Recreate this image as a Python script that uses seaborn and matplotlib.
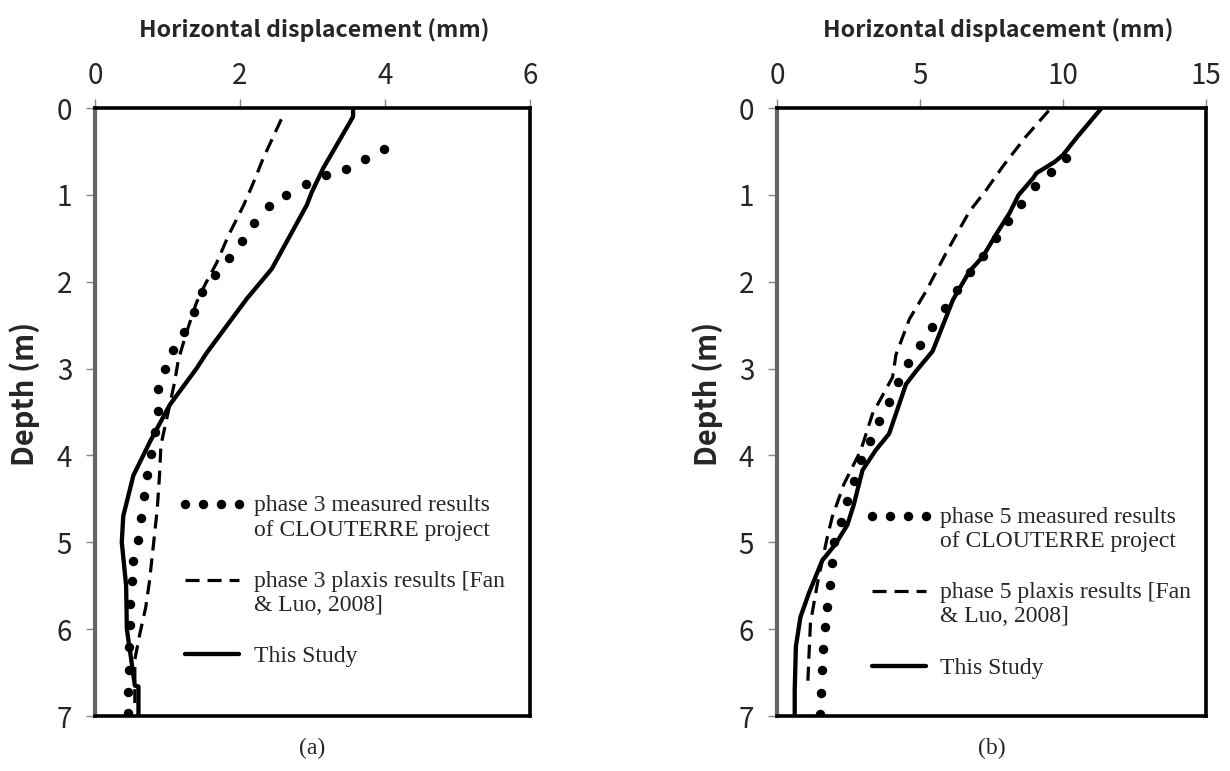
import matplotlib

matplotlib.use("Agg")
import matplotlib.pyplot as plt
import numpy as np
import seaborn as sns

# phase 3 (a)
depth_a_meas = [0.47, 0.59, 0.70, 0.77, 0.88, 1.00, 1.13, 1.32, 1.53, 1.73, 1.92, 2.12,
                2.35, 2.58, 2.79, 3.00, 3.24, 3.49, 3.73, 3.98, 4.23, 4.47, 4.72, 4.97,
                5.21, 5.45, 5.71, 5.95, 6.21, 6.47, 6.72, 6.97]
disp_a_meas = [3.98, 3.72, 3.46, 3.18, 2.91, 2.64, 2.40, 2.19, 2.03, 1.85, 1.65, 1.48,
               1.36, 1.23, 1.08, 0.96, 0.87, 0.87, 0.83, 0.77, 0.72, 0.68, 0.64, 0.59,
               0.53, 0.51, 0.49, 0.48, 0.47, 0.47, 0.46, 0.46]
depth_a_plaxis = [0.13, 0.58, 0.87, 1.12, 1.47, 1.78, 2.03, 2.24, 2.59, 2.90, 3.15, 3.50,
                  3.88, 4.23, 4.61, 5.08, 5.46, 5.75, 6.05, 6.35, 6.85]
disp_a_plaxis = [2.57, 2.32, 2.18, 2.05, 1.84, 1.68, 1.52, 1.40, 1.26, 1.15, 1.10, 1.01,
                 0.91, 0.89, 0.86, 0.80, 0.75, 0.70, 0.62, 0.55, 0.55]
depth_a_study = [0.0, 0.10, 0.23, 0.69, 0.97, 1.12, 1.85, 2.20, 2.82, 3.00, 3.42, 3.84,
                 4.23, 4.70, 5.00, 5.50, 6.00, 6.35, 6.65, 6.66, 7.0]
disp_a_study = [3.56, 3.56, 3.47, 3.15, 2.99, 2.92, 2.44, 2.09, 1.54, 1.40, 1.03, 0.76,
                0.53, 0.39, 0.37, 0.43, 0.44, 0.50, 0.55, 0.60, 0.60]

# phase 5 (b)
depth_b_meas = [0.57, 0.74, 0.90, 1.10, 1.30, 1.50, 1.70, 1.89, 2.09, 2.30, 2.52, 2.73,
                2.93, 3.16, 3.38, 3.60, 3.83, 4.05, 4.29, 4.53, 4.77, 5.00, 5.24, 5.49,
                5.74, 5.98, 6.23, 6.47, 6.73, 6.98]
disp_b_meas = [10.1, 9.57, 9.02, 8.52, 8.09, 7.65, 7.19, 6.75, 6.30, 5.87, 5.42, 5.00,
               4.57, 4.22, 3.90, 3.57, 3.24, 2.95, 2.70, 2.46, 2.24, 2.00, 1.91, 1.84,
               1.76, 1.67, 1.62, 1.58, 1.55, 1.50]
depth_b_plaxis = [0.03, 0.33, 0.67, 0.95, 1.19, 1.67, 2.11, 2.43, 2.84, 3.10, 3.52, 3.94,
                  4.33, 4.71, 4.94, 5.48, 5.93, 6.36, 6.60]
disp_b_plaxis = [9.5, 8.7, 7.9, 7.3, 6.73, 5.91, 5.21, 4.63, 4.16, 4.04, 3.34, 2.93,
                 2.34, 1.93, 1.76, 1.41, 1.17, 1.11, 1.08]
depth_b_study = [0.0, 0.34, 0.54, 0.62, 0.75, 0.81, 1.00, 1.21, 1.45, 1.71, 1.88, 2.21,
                 2.46, 2.80, 3.03, 3.18, 3.75, 3.94, 4.17, 4.56, 4.80, 5.02, 5.21, 5.59,
                 5.86, 6.20, 6.70, 7.0]
disp_b_study = [11.35, 10.48, 10.0, 9.71, 9.07, 8.95, 8.45, 8.13, 7.67, 7.2, 6.73, 6.15,
                5.85, 5.44, 4.86, 4.51, 3.92, 3.45, 2.99, 2.69, 2.46, 2.05, 1.58, 1.11,
                0.82, 0.66, 0.62, 0.62]

panels = [
    dict(meas=(disp_a_meas, depth_a_meas), plaxis=(disp_a_plaxis, depth_a_plaxis),
         study=(disp_a_study, depth_a_study), phase="3", xmax=6, xticks=[0, 2, 4, 6],
         tag="(a)", title_x=0.503, leg=(0.191, 0.363)),
    dict(meas=(disp_b_meas, depth_b_meas), plaxis=(disp_b_plaxis, depth_b_plaxis),
         study=(disp_b_study, depth_b_study), phase="5", xmax=15, xticks=[0, 5, 10, 15],
         tag="(b)", title_x=0.515, leg=(0.205, 0.344)),
]
yticks = [0, 1, 2, 3, 4, 5, 6, 7]

sns.set_style("white")
plt.rcParams["font.family"] = ["Noto Sans CJK KR", "DejaVu Sans"]
serif = ["Liberation Serif", "DejaVu Serif"]

fig = plt.figure(figsize=(12.3, 7.71), dpi=100)
axes = [fig.add_axes([0.0772, 0.0713, 0.3537, 0.7886]),
        fig.add_axes([0.6317, 0.0713, 0.3488, 0.7886])]

for ax, p in zip(axes, panels):
    sns.lineplot(x=p["meas"][0], y=p["meas"][1], sort=False, estimator=None, ax=ax,
                 color="black", linestyle="", marker="o", markersize=6.8,
                 markeredgewidth=0,
                 label=f"phase {p['phase']} measured results\nof CLOUTERRE project")
    sns.lineplot(x=p["plaxis"][0], y=p["plaxis"][1], sort=False, estimator=None, ax=ax,
                 color="black", linewidth=2.3, linestyle=(0, (4.4, 2.5)),
                 label=f"phase {p['phase']} plaxis results [Fan\n& Luo, 2008]")
    sns.lineplot(x=p["study"][0], y=p["study"][1], sort=False, estimator=None, ax=ax,
                 color="black", linewidth=3.1, solid_joinstyle="round",
                 label="This Study")

    ax.set_xlim(0, p["xmax"])
    ax.set_ylim(7, 0)
    ax.set_xticks(p["xticks"])
    ax.set_yticks(yticks)
    ax.xaxis.tick_top()
    ax.xaxis.set_label_position("top")
    ax.tick_params(axis="x", direction="out", length=6.5, width=1, color="#888888",
                   pad=6, labelsize=20)
    ax.tick_params(axis="y", direction="out", length=6.5, width=1, color="#888888",
                   pad=10, labelsize=20, left=True)
    ax.tick_params(axis="x", top=True, bottom=False)

    for side in ["top", "right", "bottom"]:
        ax.spines[side].set_color("black")
        ax.spines[side].set_linewidth(2.6)
    ax.spines["left"].set_color("#666666")
    ax.spines["left"].set_linewidth(3.0)

    ax.set_xlabel("Horizontal displacement (mm)", fontsize=16.7, fontweight="bold")
    ax.xaxis.label.set_va("center")
    ax.xaxis.set_label_coords(p["title_x"], 1.128)
    ax.set_ylabel("Depth (m)", fontsize=21, fontweight="bold")
    ax.yaxis.label.set_va("center")
    ax.yaxis.set_label_coords(-0.162, 0.53)

    leg = ax.legend(loc="upper left", bbox_to_anchor=p["leg"], frameon=False,
                    numpoints=4, handlelength=2.9, handletextpad=0.3,
                    labelspacing=1.27, borderpad=0, borderaxespad=0,
                    prop={"family": serif, "size": 17})
    # two-line entries: put the key level with the first text line
    for h in leg.legend_handles[:2]:
        h.set_ydata(np.asarray(h.get_ydata()) + 9.5)

    ax.text(0.5, -0.053, p["tag"], transform=ax.transAxes, ha="center", va="center",
            fontsize=17, family=serif)

fig.savefig("out.png", dpi=100)
